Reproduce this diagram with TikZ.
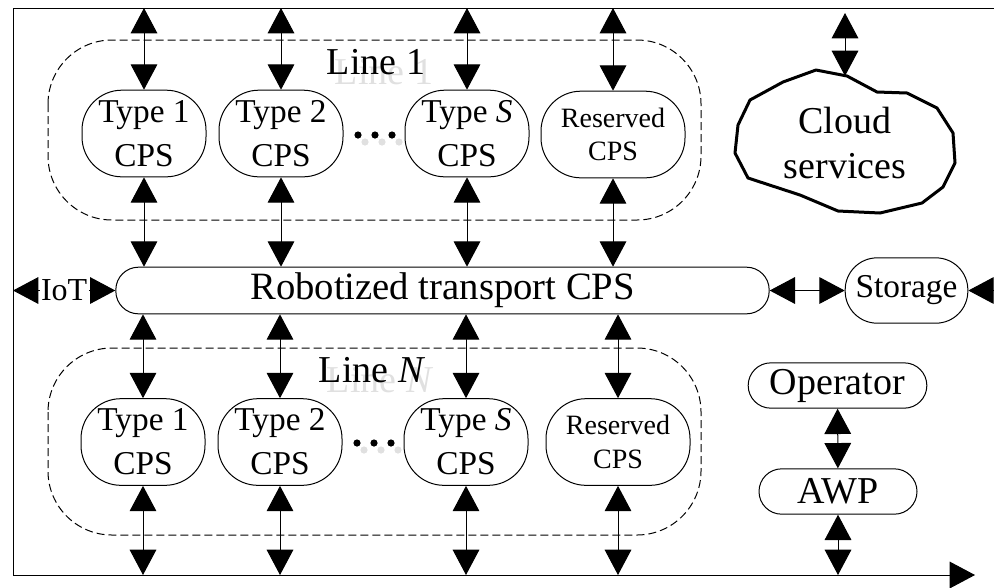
\documentclass[tikz,border=0pt]{standalone}
\usepackage{fontspec}
\setmainfont{Liberation Serif}
\usetikzlibrary{arrows.meta}

\tikzset{
  cps/.style={draw, line width=0.75, rounded corners=30pt, minimum width=93pt, minimum height=65pt,
    inner sep=0pt, align=center, font=\fontsize{25}{33}\selectfont},
  pill/.style={draw, line width=0.75, inner sep=0pt, align=center},
  linebox/.style={line width=0.75, dash pattern={on 6pt off 3pt}, rounded corners=48pt},
  link/.style={line width=0.75, {Triangle[length=19pt,width=20pt]}-{Triangle[length=19pt,width=20pt]}},
  onelink/.style={line width=0.75, -{Triangle[length=19pt,width=20pt]}},
  ghost/.style={text=black!12},
  bigtext/.style={font=\fontsize{28.5}{34}\selectfont},
}

\begin{document}
\begin{tikzpicture}[x=0.75pt,y=0.75pt,yscale=-1,xscale=1]
\useasboundingbox (0,0) rectangle (994,587);

%Frame corners
\coordinate (frameTR) at (994,8);
\coordinate (frameTL) at (13,8);
\coordinate (frameBL) at (13,575);
\coordinate (frameBR) at (975,575);

%Dashed line groups
\draw [linebox] (48,40) rectangle (701,220) ;
\draw [linebox] (48,348) rectangle (701,535) ;

% Line labels (with their pale shadow)
\node [ghost, bigtext, inner sep=0pt] at (384,72) {Line 1};
\node (line1) [bigtext, inner sep=0pt] at (376,62) {Line 1};
\node [ghost, bigtext, inner sep=0pt] at (380,380) {Line \textit{N}};
\node (lineN) [bigtext, inner sep=0pt] at (372,370) {Line \textit{N}};

% CPS of line 1
\node (t1) [cps] at (144,133.5) {Type 1\\CPS};
\node (t2) [cps] at (281,133.5) {Type 2\\CPS};
\node (tS) [cps] at (467,133.5) {Type \textit{S}\\CPS};
\node (tR) [cps, minimum width=108pt, font=\fontsize{21}{25}\selectfont] at (613,134.5) {Reserved\\CPS};

% CPS of line N
\node (b1) [cps] at (143,442) {Type 1\\CPS};
\node (b2) [cps] at (280,442) {Type 2\\CPS};
\node (bS) [cps] at (466,442) {Type \textit{S}\\CPS};
\node (bR) [cps, minimum width=108pt, font=\fontsize{21}{25}\selectfont] at (618,442) {Reserved\\CPS};

%Dots between Type 2 and Type S
\foreach \dx in {0,17,34} {
  \fill [black!12] (365+\dx,142) circle (3.6) ;
  \fill (358+\dx,135) circle (3.6) ;
  \fill [black!12] (364+\dx,450) circle (3.6) ;
  \fill (357+\dx,443) circle (3.6) ;
}

% Transport, storage, operator
\node (rt) [pill, minimum width=490pt, minimum height=35pt, rounded corners=17pt,
  font=\fontsize{29}{29}\selectfont] at (442.5,290.5) {Robotized transport CPS};
\node (st) [pill, minimum width=92pt, minimum height=49pt, rounded corners=24pt,
  font=\fontsize{25}{25}\selectfont] at (906.5,290.5) {Storage};
\node (op) [pill, minimum width=134pt, minimum height=34pt, rounded corners=17pt, bigtext] at (837.5,385.5) {Operator};
\node (awp) [pill, minimum width=118.5pt, minimum height=34pt, rounded corners=17pt, bigtext] at (838,491.5) {AWP};

%Shape: Cloud
\draw [line width=2.25, line join=round] (816,70) -- (847,76) -- (877,92) -- (907,93) -- (937,108) -- (953,133)
  -- (955,163) -- (943,187) -- (922,203) -- (880,213) -- (838,211) -- (800,195) -- (748,178)
  -- (735,153) -- (738,125) -- (750,100) -- (783,82) -- cycle ;
\node (cloud) [align=center, inner sep=0pt, bigtext] at (845,143) {Cloud\\services};
\coordinate (cloudtop) at (845,76);
\coordinate (cloudlink) at (845,13);

%Frame with time arrow
\draw [onelink] (frameTR) -- (frameTL) -- (frameBL) -- (frameBR) ;

%Links of line 1
\foreach \n in {t1,t2,tS,tR} {
  \draw [link] (\n |- frameTL) -- (\n) ;
  \draw [link] (\n) -- (\n |- rt.north) ;
}
%Links of line N
\foreach \n in {b1,b2,bS,bR} {
  \draw [link] (\n |- rt.south) -- (\n) ;
  \draw [link] (\n) -- (\n |- frameBL) ;
}

%Other links
\draw [link] (rt -| frameBL) -- node (iot) [fill=white, inner sep=1pt, font=\fontsize{24}{24}\selectfont] {IoT} (rt) ;
\draw [link] (rt) -- (st) ;
\draw [onelink] (st -| frameTR) -- (st) ;
\draw [link] (cloudlink) -- (cloudtop) ;
\draw [link] (op) -- (awp) ;
\draw [link] (awp) -- (awp |- frameBL) ;

\end{tikzpicture}
\end{document}
